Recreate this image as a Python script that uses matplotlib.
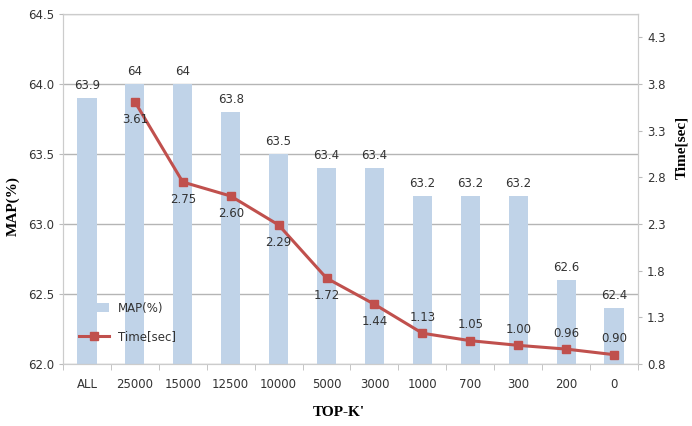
import matplotlib.pyplot as plt
import numpy as np

categories = ['ALL', '25000', '15000', '12500', '10000', '5000', '3000',
              '1000', '700', '300', '200', '0']
map_vals = [63.9, 64, 64, 63.8, 63.5, 63.4, 63.4, 63.2, 63.2, 63.2, 62.6, 62.4]
time_vals = [None, 3.61, 2.75, 2.60, 2.29, 1.72, 1.44, 1.13, 1.05, 1.00, 0.96, 0.90]
time_labels = ['', '3.61', '2.75', '2.60', '2.29', '1.72', '1.44', '1.13', '1.05',
               '1.00', '0.96', '0.90']
map_labels = ['63.9', '64', '64', '63.8', '63.5', '63.4', '63.4', '63.2', '63.2',
              '63.2', '62.6', '62.4']

narrow = ['DejaVu Sans Condensed', 'DejaVu Sans']
serif = ['Liberation Serif', 'DejaVu Serif']
txt = '#333333'
fs = 8.5

fig = plt.figure(figsize=(6.92, 4.26), dpi=100)
ax = fig.add_axes([0.091, 0.1455, 0.831, 0.8215])
x = np.arange(len(categories))

ax.bar(x, [v - 62.0 for v in map_vals], bottom=62.0, width=0.4,
       color='#c0d3e8', label='MAP(%)', zorder=2)
for xi, v, s in zip(x, map_vals, map_labels):
    ax.text(xi, v + 0.04, s, ha='center', va='bottom', fontsize=fs,
            family=narrow, color=txt)

ax.set_ylim(62.0, 64.5)
ax.set_xlim(-0.5, len(categories) - 0.5)
ax.set_yticks(np.arange(62.0, 64.51, 0.5))
ax.set_yticklabels([f'{v:.1f}' for v in np.arange(62.0, 64.51, 0.5)],
                   family=narrow, fontsize=fs, color=txt)
ax.set_xticks(x)
ax.set_xticklabels(categories, family=narrow, fontsize=fs, color=txt)
ax.tick_params(axis='x', length=0, pad=10)
ax.set_xticks(np.arange(-0.5, len(categories), 1), minor=True)
ax.tick_params(axis='x', which='minor', length=4, color='#bbbbbb')
ax.tick_params(axis='y', length=3, color='#bbbbbb')
ax.yaxis.grid(True, color='#b5b5b5', linewidth=1, zorder=0)
ax.set_axisbelow(True)
for sp in ax.spines.values():
    sp.set_color('#cccccc')

ax.set_ylabel('MAP(%)', family=serif, fontweight='bold', fontsize=11)
ax.yaxis.set_label_coords(-0.075, 0.45)
ax.set_xlabel("TOP-K'", family=serif, fontweight='bold', fontsize=11)
ax.xaxis.set_label_coords(0.48, -0.12)

ax2 = ax.twinx()
tx = [xi for xi, t in zip(x, time_vals) if t is not None]
ty = [t for t in time_vals if t is not None]
ax2.plot(tx, ty, '-s', color='#c0504d', linewidth=2.2, markersize=6,
         label='Time[sec]', zorder=3)
for xi, t, s in zip(x, time_vals, time_labels):
    if t is None:
        continue
    if t > 1.2:
        ax2.text(xi, t - 0.12, s, ha='center', va='top', fontsize=fs,
                 family=narrow, color=txt)
    else:
        ax2.text(xi, t + 0.1, s, ha='center', va='bottom', fontsize=fs,
                 family=narrow, color=txt)
ax2.set_ylim(0.8, 4.55)
ax2.set_yticks(np.arange(0.8, 4.31, 0.5))
ax2.set_yticklabels([f'{v:.1f}' for v in np.arange(0.8, 4.31, 0.5)],
                    family=narrow, fontsize=fs, color=txt)
ax2.tick_params(axis='y', length=3, color='#bbbbbb')
for sp in ax2.spines.values():
    sp.set_color('#cccccc')
ax2.set_ylabel('Time[sec]', family=serif, fontweight='bold', fontsize=11)
ax2.yaxis.set_label_coords(1.065, 0.62)

h1, l1 = ax.get_legend_handles_labels()
h2, l2 = ax2.get_legend_handles_labels()
leg = ax.legend(h1 + h2, l1 + l2, loc='lower left', bbox_to_anchor=(0.01, 0.03),
                frameon=False, prop={'family': narrow, 'size': fs},
                handlelength=2.5, labelspacing=1.3)
leg.set_zorder(5)
for t in leg.get_texts():
    t.set_color(txt)

fig.savefig('out.png', dpi=100)
